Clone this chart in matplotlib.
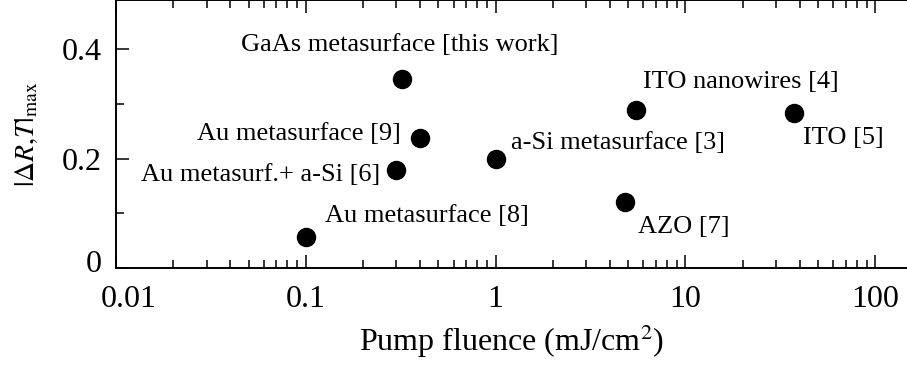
import matplotlib
matplotlib.use('Agg')
import matplotlib.pyplot as plt
import matplotlib.transforms as mtransforms

plt.rcParams['font.family'] = ['Liberation Serif', 'DejaVu Serif']
plt.rcParams['mathtext.fontset'] = 'stix'

# fluence (mJ/cm^2) and max |dR,T|
labels = ['GaAs metasurface [this work]', 'Au metasurface [9]', 'Au metasurf.+ a-Si [6]',
          'Au metasurface [8]', 'a-Si metasurface [3]', 'ITO nanowires [4]',
          'ITO [5]', 'AZO [7]']
fluence = [0.32, 0.40, 0.30, 0.10, 1.0, 5.5, 37.5, 4.8]
modulation = [0.345, 0.237, 0.179, 0.057, 0.200, 0.289, 0.283, 0.120]

# label offsets in points (dx, dy) and horizontal alignment
offsets = [(-116, 25, 'left'), (-14, 3.5, 'right'), (-11.5, -3.5, 'right'),
           (13.5, 15, 'left'), (11, 11.5, 'left'), (5, 20, 'left'),
           (6, -18, 'left'), (9.5, -18, 'left')]

fig = plt.figure(figsize=(9.07, 3.66), dpi=100)
ax = fig.add_axes([0.1279, 0.2678, 0.8721, 0.7322])

ax.plot(fluence, modulation, 'o', color='black', markersize=13, linestyle='none')

for name, x, y, (dx, dy, ha) in zip(labels, fluence, modulation, offsets):
    ax.annotate(name, (x, y), xytext=(dx, dy), textcoords='offset points',
                ha=ha, va='center', fontsize=19)

ax.set_xscale('log')
ax.set_xlim(0.01, 147)
ax.set_ylim(0, 0.49)
ax.set_yticks([0, 0.2, 0.4])
ax.set_yticklabels(['0', '0.2', '0.4'])
ax.set_yticks([0.1, 0.3], minor=True)
ax.set_xticks([0.01, 0.1, 1, 10, 100])
ax.set_xticklabels(['0.01', '0.1', '1', '10', '100'])

ax.spines['right'].set_visible(False)
for s in ['left', 'bottom', 'top']:
    ax.spines[s].set_linewidth(1.4)

ax.tick_params(which='both', direction='in', top=True, right=False,
               labelsize=23, width=1.1)
ax.tick_params(which='major', length=9.5)
ax.tick_params(which='minor', length=5.5)
ax.tick_params(axis='x', which='major', pad=12)
ax.tick_params(axis='y', which='major', pad=10)

# corner labels nudged apart, as in the original
first_x = ax.get_xticklabels()[0]
first_x.set_transform(first_x.get_transform() +
                      mtransforms.ScaledTranslation(9 / 72, 0, fig.dpi_scale_trans))
first_y = ax.get_yticklabels()[0]
first_y.set_transform(first_y.get_transform() +
                      mtransforms.ScaledTranslation(0, 5 / 72, fig.dpi_scale_trans))

ax.set_xlabel('Pump fluence (mJ/cm$^2$)', fontsize=23, labelpad=6)
ax.set_ylabel(r'$|\Delta R{,}T|_{\rm max}$', fontsize=20, labelpad=16)

fig.savefig('out.png', dpi=100)
